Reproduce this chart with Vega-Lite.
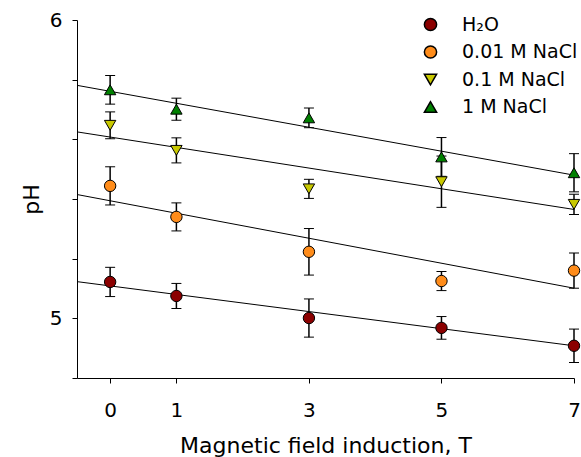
{
  "$schema": "https://vega.github.io/schema/vega-lite/v6.json",
  "width": 497,
  "height": 358,
  "autosize": {"type": "none"},
  "padding": {"left": 77, "top": 20, "right": 7, "bottom": 79},
  "background": "white",
  "config": {
    "view": {"stroke": null},
    "font": "DejaVu Sans",
    "axis": {
      "domainColor": "black", "tickColor": "black", "labelColor": "black", "titleColor": "black",
      "grid": false, "tickSize": 5, "domainWidth": 1, "tickWidth": 1,
      "labelFont": "DejaVu Sans", "titleFont": "DejaVu Sans",
      "labelFontSize": 20, "titleFontSize": 22, "titleFontWeight": "normal"
    },
    "legend": {"labelFont": "DejaVu Sans", "labelFontSize": 19, "labelColor": "black"}
  },
  "datasets": {
    "points": [
      {"x": 0, "series": "H₂O", "pH": 5.122, "sd": 0.049},
      {"x": 1, "series": "H₂O", "pH": 5.075, "sd": 0.042},
      {"x": 3, "series": "H₂O", "pH": 5.001, "sd": 0.064},
      {"x": 5, "series": "H₂O", "pH": 4.968, "sd": 0.038},
      {"x": 7, "series": "H₂O", "pH": 4.908, "sd": 0.056},
      {"x": 0, "series": "0.01 M NaCl", "pH": 5.444, "sd": 0.064},
      {"x": 1, "series": "0.01 M NaCl", "pH": 5.340, "sd": 0.047},
      {"x": 3, "series": "0.01 M NaCl", "pH": 5.223, "sd": 0.078},
      {"x": 5, "series": "0.01 M NaCl", "pH": 5.125, "sd": 0.032},
      {"x": 7, "series": "0.01 M NaCl", "pH": 5.160, "sd": 0.059},
      {"x": 0, "series": "0.1 M NaCl", "pH": 5.647, "sd": 0.045},
      {"x": 1, "series": "0.1 M NaCl", "pH": 5.563, "sd": 0.042},
      {"x": 3, "series": "0.1 M NaCl", "pH": 5.434, "sd": 0.032},
      {"x": 5, "series": "0.1 M NaCl", "pH": 5.458, "sd": 0.086},
      {"x": 7, "series": "0.1 M NaCl", "pH": 5.382, "sd": 0.034},
      {"x": 0, "series": "1 M NaCl", "pH": 5.766, "sd": 0.048},
      {"x": 1, "series": "1 M NaCl", "pH": 5.701, "sd": 0.037},
      {"x": 3, "series": "1 M NaCl", "pH": 5.672, "sd": 0.033},
      {"x": 5, "series": "1 M NaCl", "pH": 5.541, "sd": 0.065},
      {"x": 7, "series": "1 M NaCl", "pH": 5.488, "sd": 0.064}
    ],
    "fits": [
      {"x": -0.5, "series": "H₂O", "pH": 5.123},
      {"x": 7, "series": "H₂O", "pH": 4.908},
      {"x": -0.5, "series": "0.01 M NaCl", "pH": 5.415},
      {"x": 7, "series": "0.01 M NaCl", "pH": 5.101},
      {"x": -0.5, "series": "0.1 M NaCl", "pH": 5.625},
      {"x": 7, "series": "0.1 M NaCl", "pH": 5.365},
      {"x": -0.5, "series": "1 M NaCl", "pH": 5.781},
      {"x": 7, "series": "1 M NaCl", "pH": 5.480}
    ]
  },
  "encoding": {
    "x": {
      "field": "x", "type": "quantitative",
      "scale": {"domain": [-0.5, 7], "nice": false, "zero": false},
      "axis": {"values": [0, 1, 3, 5, 7], "title": "Magnetic field induction, T", "labelPadding": 17, "titlePadding": 15, "labelFlush": false}
    },
    "y": {
      "field": "pH", "type": "quantitative",
      "scale": {"domain": [4.8, 6], "nice": false, "zero": false},
      "axis": {"values": [4.8, 5, 5.2, 5.4, 5.6, 5.8, 6], "labelExpr": "datum.value == 5 || datum.value == 6 ? format(datum.value, 'd') : ''", "title": "pH", "labelPadding": 10, "titlePadding": 6, "labelFlush": false}
    }
  },
  "layer": [
    {
      "data": {"name": "fits"},
      "mark": {"type": "line", "color": "black", "strokeWidth": 1},
      "encoding": {"detail": {"field": "series"}}
    },
    {
      "data": {"name": "points"},
      "mark": {"type": "errorbar", "ticks": {"size": 10, "color": "black", "strokeWidth": 1.5, "opacity": 1}, "rule": {"color": "black", "strokeWidth": 1.5, "opacity": 1}},
      "encoding": {"yError": {"field": "sd"}}
    },
    {
      "data": {"name": "points"},
      "mark": {"type": "point", "filled": true, "stroke": "black", "strokeWidth": 1, "strokeOpacity": 1, "size": 130, "opacity": 1},
      "encoding": {
        "fill": {
          "field": "series", "type": "nominal",
          "scale": {"domain": ["H₂O", "0.01 M NaCl", "0.1 M NaCl", "1 M NaCl"], "range": ["#8b0000", "#ff8c1a", "#c8c800", "#008000"]},
          "legend": {"title": null, "orient": "none", "legendX": 344, "legendY": -5, "symbolSize": 150, "labelOffset": 22, "rowPadding": 7.5, "padding": 0, "encode": {"symbols": {"update": {"stroke": {"value": "black"}, "strokeWidth": {"value": 1}, "opacity": {"value": 1}}}}}
        },
        "shape": {
          "field": "series", "type": "nominal",
          "scale": {"domain": ["H₂O", "0.01 M NaCl", "0.1 M NaCl", "1 M NaCl"], "range": ["circle", "circle", "triangle-down", "triangle-up"]},
          "legend": {"title": null, "orient": "none", "legendX": 344, "legendY": -5, "symbolSize": 150, "labelOffset": 22, "rowPadding": 7.5, "padding": 0, "encode": {"symbols": {"update": {"stroke": {"value": "black"}, "strokeWidth": {"value": 1}, "opacity": {"value": 1}}}}}
        }
      }
    }
  ]
}
